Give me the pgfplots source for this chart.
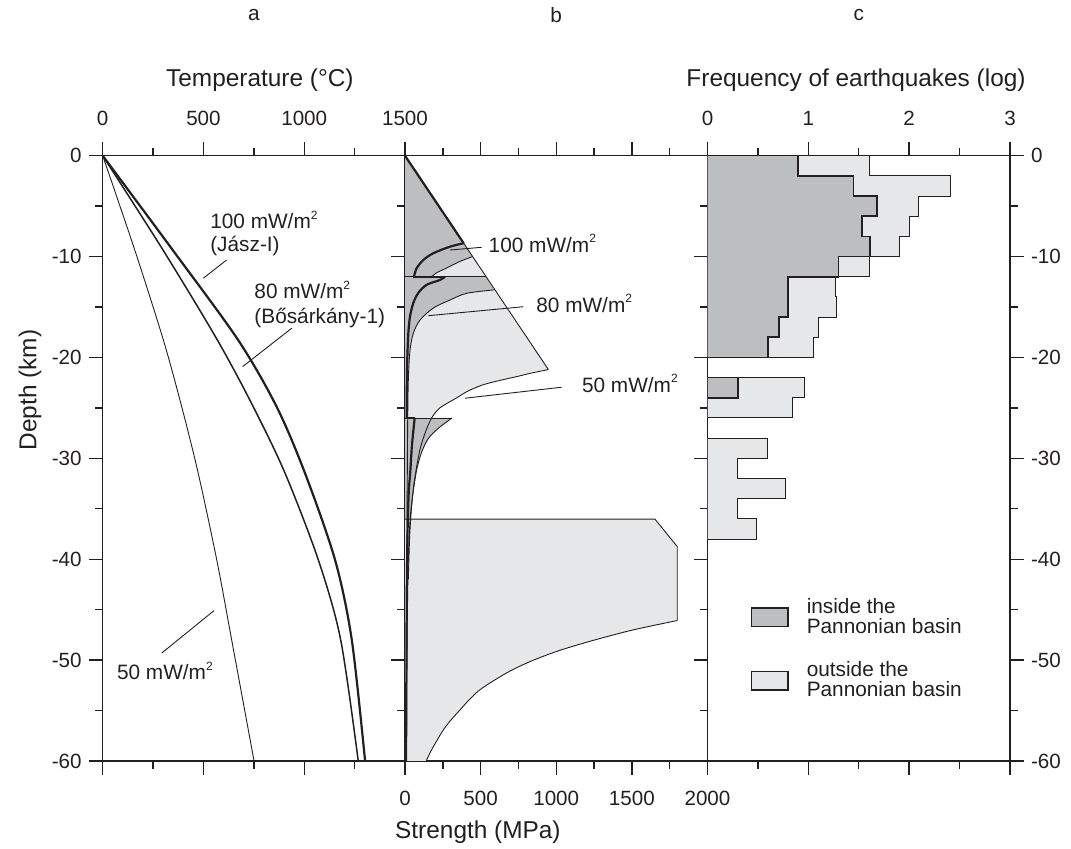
\documentclass[border=0pt]{standalone}
\usepackage{fontspec}
\setmainfont{Liberation Sans}
\usepackage{pgfplots}
\pgfplotsset{compat=1.18}
\definecolor{ink}{RGB}{35,31,32}
\definecolor{dfill}{RGB}{188,190,192}
\definecolor{lfill}{RGB}{230,231,232}
\newcommand{\sq}{\raisebox{0.85ex}{\fontsize{6}{6}\selectfont 2}}
\tikzset{
  ann/.style={font=\fontsize{10.4}{11.8}\selectfont, text=ink, inner sep=0pt, anchor=west, align=left},
  letter/.style={font=\fontsize{10.4}{12}\selectfont, text=ink, inner sep=0pt, anchor=center},
  thinl/.style={draw=ink, line width=0.45pt},
  thickl/.style={draw=ink, line width=1.1pt},
}
\pgfplotsset{
  panel/.style={
    scale only axis, height=302.65pt,
    ymin=-60, ymax=0,
    axis line style={ink, line width=0.8pt},
    tick style={ink, line width=0.7pt},
    major tick length=7pt, minor tick length=3.8pt,
    tick align=outside,
    tick label style={font=\fontsize{10.3}{12}\selectfont, text=ink},
    xticklabel shift=4.5pt,
    /pgf/number format/assume math mode=true,
    /pgf/number format/1000 sep={},
    ytick={-60,-50,...,0}, minor ytick={-55,-45,...,-5},
    label style={font=\fontsize{12.2}{14}\selectfont, text=ink},
    clip mode=individual,
  },
}
\begin{document}
\begin{tikzpicture}
\useasboundingbox (0,0) rectangle (535.5pt,424.5pt);
% ---------------- panel a ----------------
\begin{axis}[panel, at={(51.35pt,44pt)}, anchor=south west, width=151.15pt,
  xmin=0, xmax=1500, xtick={0,500,1000,1500}, minor xtick={250,750,1250},
  xtick pos=both, xticklabel pos=upper, ytick pos=left, yticklabel pos=left,
  xlabel={Temperature (°C)}, xlabel style={at={(axis description cs:0.52,1.125)}, anchor=center},
  ylabel={Depth (km)}, ylabel style={at={(axis description cs:-0.24,0.613)}, anchor=center},
]
\addplot[thinl, smooth] coordinates {(0,0)(159,-9.34)(301,-18.27)(392,-24.88)(474,-31.48)(566,-40.07)(640,-48.0)(751,-60)};
\addplot[draw=ink, line width=0.75pt, smooth] coordinates {(0,0)(299,-9.34)(569,-18.27)(747,-24.88)(905,-31.48)(1070,-40.07)(1181,-48)(1268,-60)};
\addplot[thickl, smooth] coordinates {(0,0)(347,-9.34)(672,-18.27)(863,-24.88)(1004,-31.48)(1153,-40.07)(1236,-48)(1302,-60)};
\addplot[thinl] coordinates {(615,-10.34)(499,-12.15)};
\addplot[thinl] coordinates {(938,-17.1)(695,-20.9)};
\addplot[thinl] coordinates {(293,-49.3)(552,-45.1)};
\node[ann] at (axis cs:532,-7.71) {100 mW/m\sq\\(Jász-I)};
\node[ann, font=\fontsize{10.4}{12.4}\selectfont] at (axis cs:751,-14.72) {80 mW/m\sq\\(Bősárkány-1)};
\node[ann] at (axis cs:69.5,-51.04) {50 mW/m\sq};
\node[letter] at (rel axis cs:0.5,1.2325) {a};
\end{axis}
% ---------------- panel b ----------------
\begin{axis}[panel, at={(202.5pt,44pt)}, anchor=south west, width=151.25pt,
  xmin=0, xmax=2000, xtick={0,500,1000,1500,2000}, minor xtick={250,750,1250,1750},
  xtick pos=both, xticklabel pos=lower, ytick pos=left, yticklabels={},
  xlabel={Strength (MPa)}, xlabel style={at={(axis description cs:0.241,-0.117)}, anchor=center},
]
% fills
\addplot[fill=dfill, draw=none] coordinates {(0,0)(447,-10)(360,-10.5)(280,-11.1)(210,-11.6)(175,-12)(0,-12)} -- cycle;
\addplot[fill=lfill, draw=none] coordinates {(447,-10)(536,-12)(175,-12)(210,-11.6)(280,-11.1)(360,-10.5)} -- cycle;
\addplot[fill=dfill, draw=none] coordinates {(0,-12)(536,-12)(590,-13.3)(408,-13.64)(298,-14.3)(187,-15.1)(99,-16.3)(55,-17.6)(33,-19.3)(22,-22.2)(18,-26)(0,-26)} -- cycle;
\addplot[fill=lfill, draw=none] coordinates {(590,-13.3)(948,-21.2)(820,-21.6)(738,-21.9)(620,-22.3)(518,-22.7)(420,-23.3)(342,-24.0)(231,-25.0)(176,-26.0)(18,-26)(22,-22.2)(33,-19.3)(55,-17.6)(99,-16.3)(187,-15.1)(298,-14.3)(408,-13.64)} -- cycle;
\addplot[fill=dfill, draw=none] coordinates {(0,-26)(311,-26)(222,-27.0)(156,-28.0)(112,-29.3)(79,-31.0)(57,-33.0)(40,-35)(30,-37)(22,-40)(0,-40)} -- cycle;
\addplot[fill=lfill, draw=none] coordinates {(0,-36.03)(1653,-36.03)(1800,-38.75)(1800,-46.08)(1510,-47)(1255,-48)(1030,-49)(850,-50)(705,-51)(590,-52)(490,-53)(420,-54)(360,-55)(300,-56)(250,-57)(210,-58)(172,-59)(140,-60)(0,-60)} -- cycle;
% outlines
\addplot[thinl] coordinates {(0,-36.03)(1653,-36.03)(1800,-38.75)(1800,-46.08)};
\addplot[thinl, smooth] coordinates {(1800,-46.08)(1510,-47)(1255,-48)(1030,-49)(850,-50)(705,-51)(590,-52)(490,-53)(420,-54)(360,-55)(300,-56)(250,-57)(210,-58)(172,-59)(140,-60)};
\addplot[thinl] coordinates {(0,0)(948,-21.2)};
\addplot[thinl] coordinates {(0,-12)(536,-12)};
\addplot[thinl] coordinates {(0,-26)(311,-26)};
\addplot[thinl, smooth] coordinates {(447,-10)(360,-10.5)(280,-11.1)(210,-11.6)(175,-12)};
\addplot[thinl, smooth] coordinates {(590,-13.3)(408,-13.64)(298,-14.3)(187,-15.1)(99,-16.3)(55,-17.6)(33,-19.3)(22,-22.2)(18,-26)(15,-32)(12,-40)};
\addplot[thinl, smooth] coordinates {(948,-21.2)(820,-21.6)(738,-21.9)(620,-22.3)(518,-22.7)(420,-23.3)(342,-24.0)(231,-25.0)(176,-26.0)(135,-27.4)(101,-29.0)(75,-31)(55,-33)(40,-35.5)(30,-38)(22,-42)};
\addplot[thinl, smooth] coordinates {(311,-26)(222,-27.0)(156,-28.0)(112,-29.3)(79,-31.0)(57,-33.0)(40,-35)(30,-37)(22,-40)(16,-45)(12,-52)(9,-60)};
% 100 mW/m2 envelope (thick)
\addplot[thickl] coordinates {(0,0)(388,-8.68)};
\addplot[thickl, smooth] coordinates {(388,-8.68)(297,-9.02)(187,-9.67)(121,-10.34)(77,-11.16)(60,-11.92)(57,-12)};
\addplot[thickl] coordinates {(55,-12)(264,-12)};
\addplot[thickl, smooth] coordinates {(264,-12)(231,-12.32)(143,-12.8)(88,-13.6)(55,-14.6)(33,-15.96)(22,-17.6)(15,-20.2)(12,-23)(11,-26)};
\addplot[thickl] coordinates {(11,-26)(64,-26)};
\addplot[thickl, smooth] coordinates {(64,-26)(46,-28.7)(35,-31.3)(24,-33.6)(16,-38)(11,-45)(7,-60)};
% leaders and labels
\addplot[thinl] coordinates {(297.6,-9.35)(507,-9.08)};
\addplot[thinl] coordinates {(154,-15.86)(783,-14.97)};
\addplot[thinl] coordinates {(397,-24.04)(1036,-22.95)};
\node[ann] at (axis cs:551,-8.68) {100 mW/m\sq};
\node[ann] at (axis cs:866,-14.63) {80 mW/m\sq};
\node[ann] at (axis cs:1168,-22.56) {50 mW/m\sq};
\node[letter] at (rel axis cs:0.5,1.2325) {b};
\end{axis}
% ---------------- panel c ----------------
\begin{axis}[panel, at={(353.75pt,44pt)}, anchor=south west, width=151.25pt,
  xmin=0, xmax=3, xtick={0,1,2,3}, minor xtick={0.5,1.5,2.5},
  xtick pos=both, xticklabel pos=upper, ytick pos=both, yticklabel pos=right,
  xlabel={Frequency of earthquakes (log)}, xlabel style={at={(axis description cs:0.491,1.125)}, anchor=center},
  legend style={at={(axis description cs:0.143,0.276)}, anchor=north west, draw=none, fill=none,
    inner sep=0pt, outer sep=0pt, row sep=8.5pt, column sep=7pt, font=\fontsize{10.4}{10.2}\selectfont, text=ink,
    cells={align=left}},
  legend cell align=left,
  legend image code/.code={\draw[#1, line width=0.7pt] (0pt,-4.6pt) rectangle (18.3pt,4.6pt);},
]
\addplot[fill=lfill, draw=ink, line width=0.5pt, forget plot] coordinates {(0,0)(1.606,0)(1.606,-2)(2.405,-2)(2.405,-4)(2.091,-4)(2.091,-6)(1.999,-6)(1.999,-8)(1.900,-8)(1.900,-10)(1.606,-10)(1.606,-12)(1.265,-12)(1.265,-14)(1.282,-14)(1.282,-16)(1.100,-16)(1.100,-18)(1.051,-18)(1.051,-20)(0,-20)} -- cycle;
\addplot[fill=lfill, draw=ink, line width=0.5pt, forget plot] coordinates {(0,-22)(0.961,-22)(0.961,-24)(0.846,-24)(0.846,-26)(0,-26)} -- cycle;
\addplot[fill=lfill, draw=ink, line width=0.5pt, forget plot] coordinates {(0,-28)(0.599,-28)(0.599,-30)(0.30,-30)(0.30,-32)(0.77,-32)(0.77,-34)(0.30,-34)(0.30,-36)(0.49,-36)(0.49,-38)(0,-38)} -- cycle;
\addplot[fill=dfill, draw=ink, line width=0.8pt, forget plot] coordinates {(0,0)(0.895,0)(0.895,-2)(1.447,-2)(1.447,-4)(1.678,-4)(1.678,-6)(1.530,-6)(1.530,-8)(1.612,-8)(1.612,-10)(1.298,-10)(1.298,-12)(0.796,-12)(0.796,-16)(0.710,-16)(0.710,-18)(0.598,-18)(0.598,-20)(0,-20)} -- cycle;
\addplot[fill=dfill, draw=ink, line width=0.8pt, forget plot] coordinates {(0,-22)(0.301,-22)(0.301,-24)(0,-24)} -- cycle;
\addlegendimage{fill=dfill, draw=ink}
\addlegendentry{inside the\\Pannonian basin}
\addlegendimage{fill=lfill, draw=ink}
\addlegendentry{outside the\\Pannonian basin}
\node[letter] at (rel axis cs:0.5,1.2325) {c};
\end{axis}
\end{tikzpicture}
\end{document}
